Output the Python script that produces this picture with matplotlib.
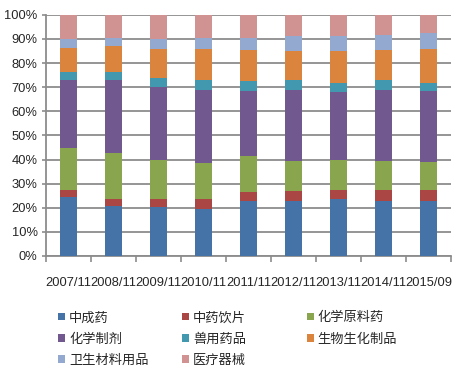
import numpy as np
import matplotlib
matplotlib.use("Agg")
import matplotlib.pyplot as plt
from matplotlib.ticker import FixedLocator, NullFormatter, FuncFormatter

# ---------------- DATA ----------------
periods = ["2007/11", "2008/11", "2009/11", "2010/11", "2011/11",
           "2012/11", "2013/11", "2014/11", "2015/09"]
series_names = ["中成药", "中药饮片", "化学原料药", "化学制剂",
                "兽用药品", "生物生化制品", "卫生材料用品", "医疗器械"]

# share (%) of each category per period
zhongchengyao = [24.6, 20.7, 20.1, 19.6, 22.9, 22.9, 23.5, 22.9, 22.9]
zhongyaoyinpian = [2.8, 2.8, 3.4, 3.9, 3.5, 3.9, 4.0, 4.6, 4.6]
huaxue_yuanliao = [17.3, 19.0, 16.5, 15.0, 14.9, 12.6, 12.5, 11.9, 11.4]
huaxue_zhiji = [28.4, 30.6, 30.1, 30.5, 27.2, 29.6, 27.9, 29.6, 29.6]
shouyong = [3.2, 3.2, 3.9, 4.1, 4.0, 4.1, 3.9, 4.1, 3.3]
shengwu = [10.1, 10.8, 11.8, 12.9, 12.9, 11.9, 13.2, 12.3, 14.2]
weisheng = [3.6, 3.3, 4.1, 4.6, 5.2, 6.3, 6.3, 6.4, 6.5]
yiliao = [10.0, 9.6, 10.1, 9.4, 9.4, 8.7, 8.7, 8.2, 7.5]

all_series = [zhongchengyao, zhongyaoyinpian, huaxue_yuanliao, huaxue_zhiji,
              shouyong, shengwu, weisheng, yiliao]
colors = ["#4572A7", "#AA4643", "#89A54E", "#71588F",
          "#4198AF", "#DB843D", "#93A9CF", "#D19392"]

# ---------------- PLOT ----------------
plt.rcParams["font.family"] = ["Liberation Sans", "DejaVu Sans"]
txt = "#262626"

fig = plt.figure(figsize=(4.57, 3.72), dpi=100)
ax = fig.add_axes([0.1007, 0.312, 0.886, 0.648])

x = np.arange(len(periods))
bottom = np.zeros(len(periods))
handles = []
for vals, c, name in zip(all_series, colors, series_names):
    v = np.array(vals, dtype=float)
    b = ax.bar(x, v, 0.39, bottom=bottom, color=c, label=name, zorder=3)
    handles.append(b)
    bottom += v

ax.set_xlim(-0.5, len(periods) - 0.5)
ax.set_ylim(0, 100)
ax.set_yticks(np.arange(0, 101, 10))
ax.yaxis.set_major_formatter(FuncFormatter(lambda v, p: f"{int(v)}%"))
ax.grid(axis="y", color="#8c8c8c", linewidth=1.3, zorder=0)
ax.set_axisbelow(True)

ax.xaxis.set_major_locator(FixedLocator(np.arange(-0.5, len(periods), 1.0)))
ax.xaxis.set_major_formatter(NullFormatter())
ax.xaxis.set_minor_locator(FixedLocator(x))
ax.set_xticklabels(periods, minor=True)
ax.tick_params(axis="x", which="major", length=4, color="#8c8c8c", width=1.2)
ax.tick_params(axis="x", which="minor", length=0, pad=15, labelsize=9.3, labelcolor=txt)
ax.tick_params(axis="y", length=3, color="#8c8c8c", width=1.2, labelsize=9.3,
               labelcolor=txt, pad=3)

for s in ["top", "right"]:
    ax.spines[s].set_visible(False)
for s in ["left", "bottom"]:
    ax.spines[s].set_color("#8c8c8c")
    ax.spines[s].set_linewidth(1.3)

# legend: three columns placed separately
cols = [[0, 3, 6], [1, 4, 7], [2, 5]]
col_x = [0.128, 0.399, 0.672]
for idxs, cx in zip(cols, col_x):
    leg = fig.legend([handles[i] for i in idxs], [series_names[i] for i in idxs],
                     loc="upper left", bbox_to_anchor=(cx, 0.163),
                     frameon=False, handlelength=0.5, handleheight=0.5,
                     handletextpad=0.3, labelspacing=0.62, borderpad=0,
                     borderaxespad=0,
                     prop={"family": ["Noto Sans CJK SC", "DejaVu Sans"], "size": 9.5})
    for t in leg.get_texts():
        t.set_color(txt)

fig.savefig("out.png", dpi=100)
